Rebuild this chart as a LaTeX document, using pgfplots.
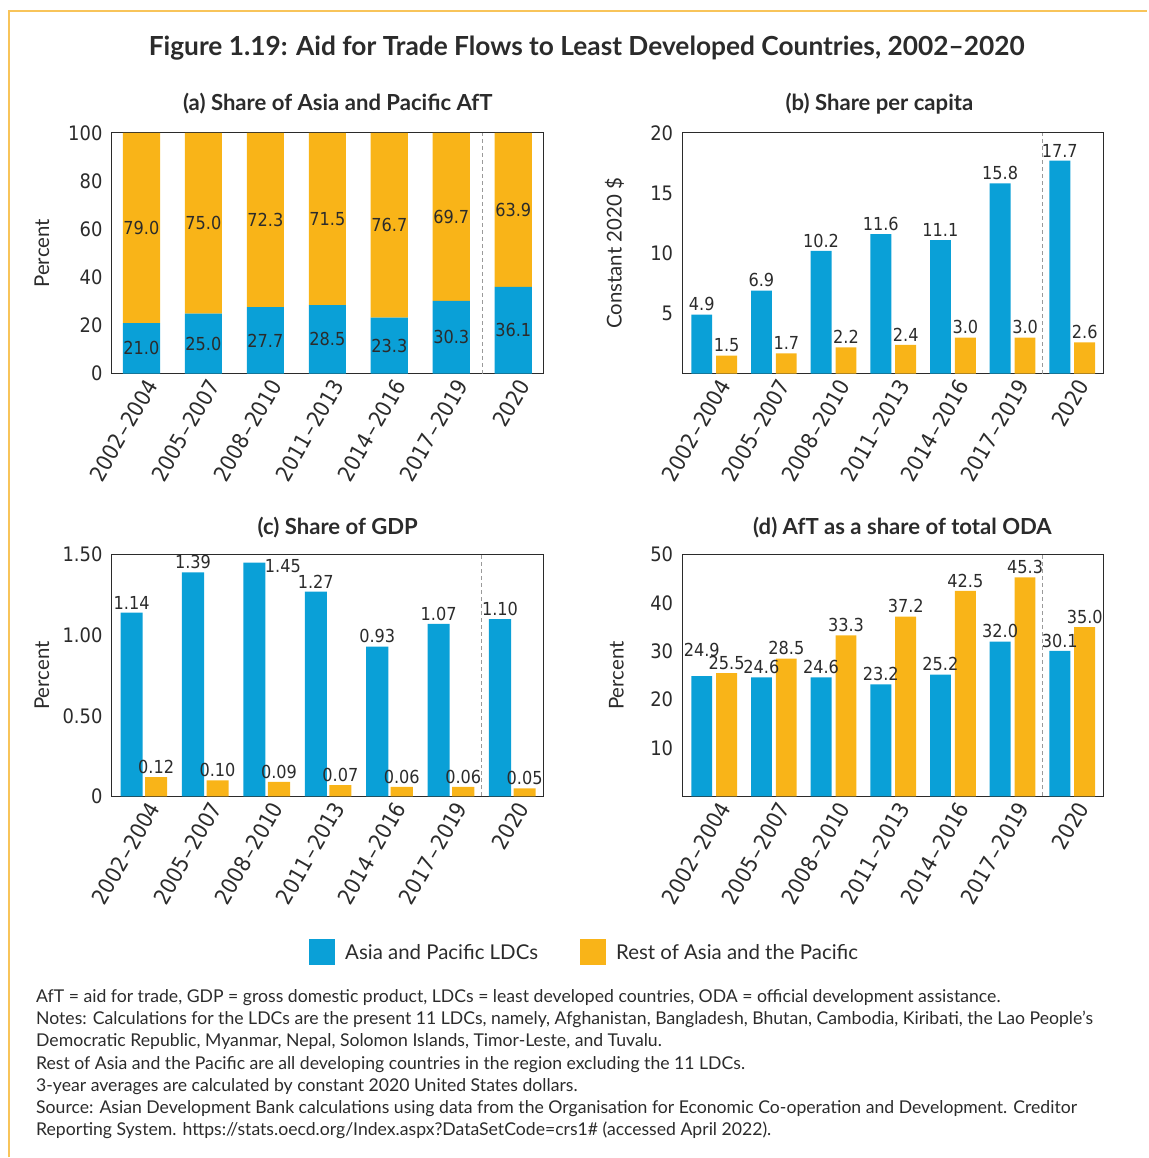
\documentclass[border=0pt]{standalone}
\usepackage{pgfplots}
\pgfplotsset{compat=1.18}
\usepackage{fontspec}
\setmainfont{Lato}
\newfontfamily\vlfont{DejaVu Sans Condensed}
\definecolor{ldc}{HTML}{0AA0D7}
\definecolor{rest}{HTML}{F9B418}
\definecolor{ink}{HTML}{2B2B2B}
\definecolor{frame}{HTML}{F8C45A}
\definecolor{sep}{HTML}{9A9A9A}
\newcommand\tickfont{\vlfont\fontsize{20}{24}\selectfont}
\newcommand\xtickfont{\vlfont\fontsize{22}{26}\selectfont}
\newcommand\labfont{\fontsize{20.5}{24}\selectfont}
\newcommand\valfont{\vlfont\fontsize{18}{22}\selectfont}
\newcommand\yrs[2]{#1\kern1.5bp–\kern1.5bp#2}

\pgfplotsset{
  panel/.style={
    scale only axis, anchor=south west,
    axis line style={draw=ink, line width=1.1bp},
    major tick length=0pt,
    enlargelimits=false,
    xtick={0,...,6},
    xticklabels={\yrs{2002}{2004},\yrs{2005}{2007},\yrs{2008}{2010},\yrs{2011}{2013},\yrs{2014}{2016},\yrs{2017}{2019},2020},
    xticklabel style={rotate=60, anchor=east, font=\xtickfont, text=ink, xshift=2bp, yshift=-12.9bp},
    yticklabel style={font=\tickfont, text=ink, xshift=-6bp},
    /pgf/number format/assume math mode=true,
    every axis y label/.style={at={(axis description cs:-0.162,0.5)}, rotate=90, anchor=center, font=\labfont, text=ink},
    clip=false,
  },
  vals/.style={nodes near coords={\pgfmathprintnumber[fixed,fixed zerofill,precision=#1]{\pgfplotspointmeta}},
    every node near coord/.append style={font=\valfont, text=ink}},
  vals/.default=1,
  lshift/.style={every node near coord/.append style={xshift=#1}},
  sq/.style={legend image code/.code={\fill[##1, draw=none] (0bp,-13bp) rectangle (26bp,13bp);}},
  divider/.style={color=sep, line width=1bp, dash pattern=on 4bp off 3bp, forget plot},
}

\begin{document}
\begin{tikzpicture}
\path (0bp,0bp) rectangle (1148bp,1158bp);
\draw[frame, line width=1.5bp] (9bp,0bp) -- (9bp,1147bp) -- (1148bp,1147bp);

\node[font=\bfseries\fontsize{26.4}{32}\selectfont, text=ink] at (587bp,1110bp)
  {Figure 1.19: Aid for Trade Flows to Least Developed Countries, 2002–2020};
\node[font=\bfseries\fontsize{22.2}{26}\selectfont, text=ink] at (338bp,1054bp) {(a) Share of Asia and Pacific AfT};
\node[font=\bfseries\fontsize{22.2}{26}\selectfont, text=ink] at (880bp,1054bp) {(b) Share per capita};
\node[font=\bfseries\fontsize{22.2}{26}\selectfont, text=ink] at (338bp,630bp) {(c) Share of GDP};
\node[font=\bfseries\fontsize{22.2}{26}\selectfont, text=ink] at (903bp,630bp) {(d) AfT as a share of total ODA};

% (a) stacked shares
\begin{axis}[panel, at={(112bp,784bp)}, width=432bp, height=241bp,
  xmin=-0.476, xmax=6.49, ymin=0, ymax=100, ytick={0,20,...,100},
  ylabel={Percent}, ybar stacked, bar width=0.6]
  \addplot[fill=ldc, draw=none] coordinates {(0,21.0) (1,25.0) (2,27.7) (3,28.5) (4,23.3) (5,30.3) (6,36.1)};
  \addplot[fill=rest, draw=none] coordinates {(0,79.0) (1,75.0) (2,72.3) (3,71.5) (4,76.7) (5,69.7) (6,63.9)};
\end{axis}
% labels centred in each segment of (a)
\begin{axis}[scale only axis, anchor=south west, at={(112bp,784bp)}, width=432bp, height=241bp,
  xmin=-0.476, xmax=6.49, ymin=0, ymax=100, hide axis, clip=false,
  nodes near coords, point meta=explicit symbolic,
  every node near coord/.append style={font=\valfont, text=ink, anchor=center}]
  \addplot[draw=none, mark=none] coordinates {(0,10.5)[21.0] (1,12.5)[25.0] (2,13.85)[27.7] (3,14.25)[28.5] (4,11.65)[23.3] (5,15.15)[30.3] (6,18.05)[36.1]};
  \addplot[draw=none, mark=none] coordinates {(0,60.5)[79.0] (1,62.5)[75.0] (2,63.85)[72.3] (3,64.25)[71.5] (4,61.65)[76.7] (5,65.15)[69.7] (6,68.05)[63.9]};
  \addplot[divider] coordinates {(5.5,0) (5.5,100)};
\end{axis}

% (b) per capita
\begin{axis}[panel, at={(683bp,784bp)}, width=421bp, height=241bp,
  xmin=-0.53, xmax=6.52, ymin=0, ymax=20, ytick={5,10,15,20},
  ylabel={Constant 2020 \$}]
  \addplot[ybar, bar width=0.35, bar shift=-0.208, fill=ldc, draw=none, vals, lshift=-12.5bp] coordinates {(0,4.9) (1,6.9) (2,10.2) (3,11.6) (4,11.1) (5,15.8) (6,17.7)};
  \addplot[ybar, bar width=0.35, bar shift=0.208, fill=rest, draw=none, vals, lshift=12.5bp] coordinates {(0,1.5) (1,1.7) (2,2.2) (3,2.4) (4,3.0) (5,3.0) (6,2.6)};
  \addplot[divider] coordinates {(5.5,0) (5.5,20)};
\end{axis}

% (c) share of GDP
\begin{axis}[panel, at={(112bp,361bp)}, width=432bp, height=242bp,
  xmin=-0.52, xmax=6.51, ymin=0, ymax=1.5, ytick={0,0.5,1,1.5}, yticklabels={0,0.50,1.00,1.50},
  ylabel={Percent},
  legend columns=2,
  legend style={at={(1.095,-0.645)}, anchor=center, draw=none, fill=none, font=\labfont, text=ink,
    /tikz/every odd column/.append style={column sep=8bp},
    /tikz/every even column/.append style={column sep=40bp}}]
  \addplot[ybar, bar width=0.36, bar shift=-0.2, fill=ldc, draw=none, sq, vals=2, lshift=-12.3bp,
    coordinate style/.condition={\coordindex==2}{anchor=west, xshift=7bp, yshift=-3bp}]
    coordinates {(0,1.14) (1,1.39) (2,1.45) (3,1.27) (4,0.93) (5,1.07) (6,1.10)};
  \addlegendentry{Asia and Pacific LDCs}
  \addplot[ybar, bar width=0.36, bar shift=0.2, fill=rest, draw=none, sq, vals=2, lshift=12.3bp]
    coordinates {(0,0.12) (1,0.10) (2,0.09) (3,0.07) (4,0.06) (5,0.06) (6,0.05)};
  \addlegendentry{Rest of Asia and the Pacific}
  \addplot[divider] coordinates {(5.5,0) (5.5,1.5)};
\end{axis}

% (d) share of total ODA
\begin{axis}[panel, at={(683bp,361bp)}, width=421bp, height=242bp,
  xmin=-0.53, xmax=6.52, ymin=0, ymax=50, ytick={10,20,...,50},
  ylabel={Percent},
  every axis y label/.append style={at={(axis description cs:-0.157,0.5)}}]
  \addplot[ybar, bar width=0.35, bar shift=-0.208, fill=ldc, draw=none, vals, lshift=-12.5bp,
    coordinate style/.condition={\coordindex==0}{yshift=16bp}]
    coordinates {(0,24.9) (1,24.6) (2,24.6) (3,23.2) (4,25.2) (5,32.0) (6,30.1)};
  \addplot[ybar, bar width=0.35, bar shift=0.208, fill=rest, draw=none, vals, lshift=12.5bp] coordinates {(0,25.5) (1,28.5) (2,33.3) (3,37.2) (4,42.5) (5,45.3) (6,35.0)};
  \addplot[divider] coordinates {(5.5,0) (5.5,50)};
\end{axis}

\node[anchor=north west, align=left, inner sep=0pt, text=ink, font=\fontsize{17.7}{22.3}\selectfont] at (36bp,168bp)
{AfT = aid for trade, GDP = gross domestic product, LDCs = least developed countries, ODA = official development assistance.\\
Notes: Calculations for the LDCs are the present 11 LDCs, namely, Afghanistan, Bangladesh, Bhutan, Cambodia, Kiribati, the Lao People’s\\
Democratic Republic, Myanmar, Nepal, Solomon Islands, Timor-Leste, and Tuvalu.\\
Rest of Asia and the Pacific are all developing countries in the region excluding the 11 LDCs.\\
3-year averages are calculated by constant 2020 United States dollars.\\
Source: Asian Development Bank calculations using data from the Organisation for Economic Co-operation and Development. Creditor\\
Reporting System. https://stats.oecd.org/Index.aspx?DataSetCode=crs1\# (accessed April 2022).};
\end{tikzpicture}
\end{document}
